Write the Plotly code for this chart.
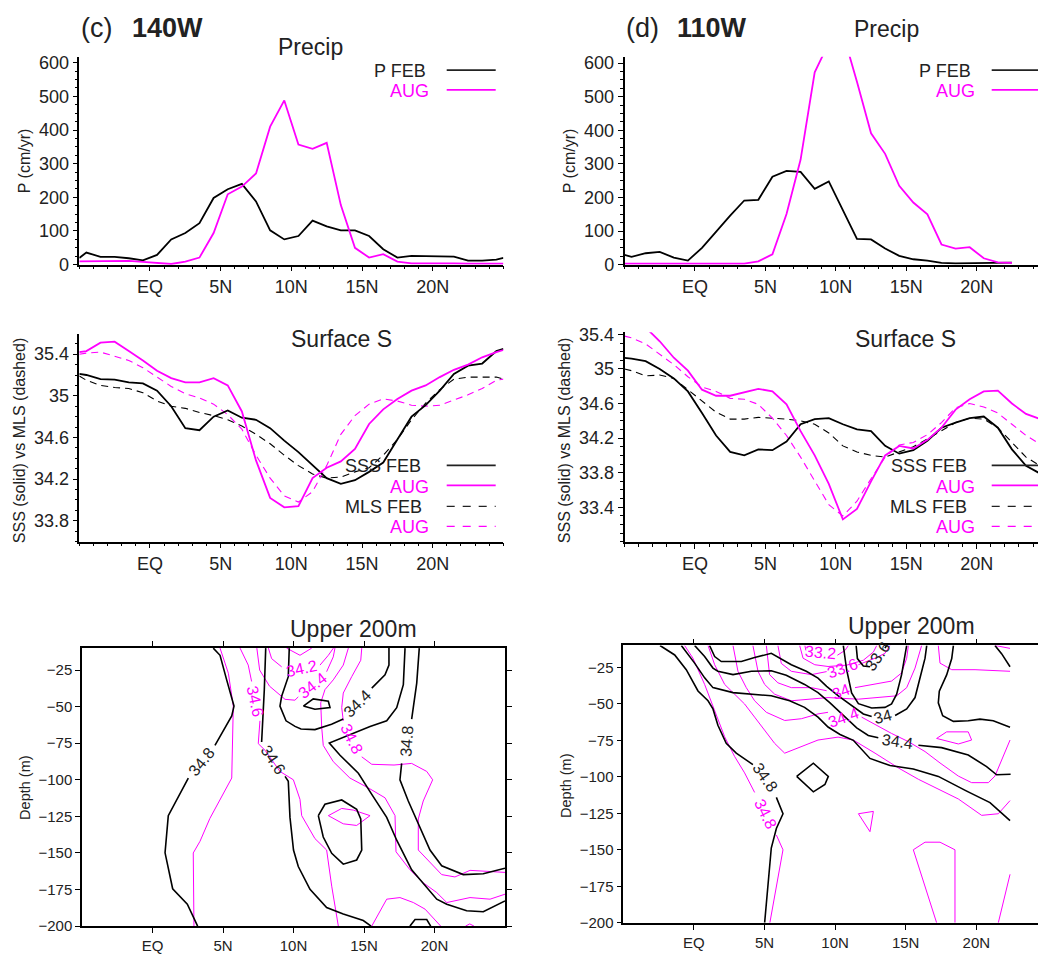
import plotly.graph_objects as go

W, H = 1038, 958
FONT = "Liberation Sans, Arial, Helvetica, sans-serif"
TXT = "#222222"
MAG = "#ff00ff"
BLK = "#000000"

# ---------------- data ----------------
LAT_C = [-5, -4.5, -3.5, -2.5, -1.5, -0.5, 0.5, 1.5, 2.5, 3.5, 4.5, 5.5, 6.5, 7.5, 8.5, 9.5,
         10.5, 11.5, 12.5, 13.5, 14.5, 15.5, 16.5, 17.5, 18.5, 19.5, 20.5, 21.5, 22.5, 23.5, 24.5, 25]
P_FEB_140 = [20, 36, 23, 23, 19, 13, 29, 75, 94, 123, 198, 224, 240, 188, 102, 75, 85, 131, 114, 102,
             102, 85, 46, 21, 26, 26, 26, 24, 12, 12, 15, 20]
P_AUG_140 = [10, 10, 9, 10, 11, 8, 5, 2, 9, 21, 94, 209, 232, 271, 410, 488, 357, 344, 362, 177,
             50, 21, 31, 9, 4, 4, 6, 4, 3, 3, 3, 3]

LAT_P110 = [-5, -4.5, -3.5, -2.5, -1.5, -0.5, 0.5, 1.5, 2.5, 3.5, 4.5, 5.5, 6.5, 7.5, 8.5, 9.5,
            10.5, 11.5, 12.5, 13.5, 14.5, 15.5, 16.5, 17.5, 18.5, 19.5, 20.5, 21.5, 22.5]
P_FEB_110 = [29, 23, 34, 38, 21, 12, 50, 99, 146, 191, 193, 262, 279, 276, 226, 248, 162, 77, 75, 48,
             26, 16, 12, 5, 4, 4, 5, 6, 6]
P_AUG_110 = [3, 3, 3, 3, 3, 3, 2, 1, 1, 3, 10, 31, 151, 313, 573, 660, 690, 545, 391, 330,
             235, 185, 150, 60, 48, 52, 19, 7, 5]

SSS_FEB_140 = [35.21, 35.20, 35.16, 35.155, 35.13, 35.12, 35.05, 34.90, 34.69, 34.67, 34.80, 34.86,
               34.79, 34.77, 34.69, 34.57, 34.46, 34.33, 34.21, 34.155, 34.19, 34.27, 34.36, 34.58,
               34.80, 34.91, 35.05, 35.21, 35.29, 35.31, 35.43, 35.45]
SSS_AUG_140 = [35.42, 35.43, 35.51, 35.52, 35.43, 35.34, 35.24, 35.17, 35.13, 35.13, 35.17, 35.10,
               34.85, 34.38, 34.02, 33.93, 33.94, 34.21, 34.31, 34.37, 34.49, 34.73, 34.87, 34.97,
               35.05, 35.10, 35.18, 35.25, 35.30, 35.37, 35.42, 35.44]
MLS_FEB_140 = [35.19, 35.15, 35.10, 35.08, 35.07, 35.03, 34.95, 34.90, 34.88, 34.84, 34.81, 34.77,
               34.71, 34.63, 34.54, 34.43, 34.33, 34.25, 34.21, 34.22, 34.27, 34.31, 34.43, 34.58,
               34.77, 34.93, 35.06, 35.16, 35.18, 35.18, 35.18, 35.16]
MLS_AUG_140 = [35.40, 35.41, 35.42, 35.38, 35.34, 35.27, 35.18, 35.09, 35.02, 34.98, 34.92, 34.82,
               34.68, 34.43, 34.21, 34.04, 33.98, 34.08, 34.33, 34.63, 34.81, 34.92, 34.97, 34.95,
               34.91, 34.90, 34.91, 34.96, 35.01, 35.07, 35.15, 35.16]

LAT_S110 = [-5, -4.5, -3.5, -2.5, -1.5, -0.5, 0.5, 1.5, 2.5, 3.5, 4.5, 5.5, 6.5, 7.5, 8.5, 9.5,
            10.5, 11.5, 12.5, 13.5, 14.5, 15.5, 16.5, 17.5, 18.5, 19.5, 20.5, 21.5, 22.5, 23.5, 24.5]
SSS_FEB_110 = [35.127, 35.12, 35.09, 35.00, 34.89, 34.74, 34.49, 34.23, 34.04, 34.00, 34.07, 34.06,
               34.16, 34.36, 34.42, 34.43, 34.36, 34.30, 34.28, 34.11, 34.02, 34.06, 34.17, 34.32,
               34.38, 34.43, 34.45, 34.32, 34.07, 33.88, 33.79]
SSS_AUG_110 = [35.65, 35.60, 35.48, 35.32, 35.13, 34.98, 34.76, 34.69, 34.69, 34.73, 34.77, 34.74,
               34.59, 34.28, 34.00, 33.67, 33.26, 33.38, 33.70, 34.00, 34.11, 34.08, 34.18, 34.32,
               34.53, 34.65, 34.74, 34.75, 34.60, 34.48, 34.42]
MLS_FEB_110 = [35.00, 34.98, 34.92, 34.93, 34.89, 34.76, 34.64, 34.50, 34.42, 34.42, 34.44, 34.43,
               34.42, 34.40, 34.36, 34.26, 34.11, 34.04, 34.00, 33.98, 34.04, 34.10, 34.19, 34.29,
               34.38, 34.43, 34.42, 34.32, 34.15, 33.98, 33.88]
MLS_AUG_110 = [35.38, 35.36, 35.29, 35.17, 35.05, 34.91, 34.79, 34.74, 34.66, 34.65, 34.59, 34.43,
               34.23, 33.98, 33.70, 33.43, 33.30, 33.47, 33.73, 33.98, 34.12, 34.15, 34.24, 34.38,
               34.55, 34.60, 34.56, 34.49, 34.36, 34.23, 34.13]

XTICK_VALS = [0, 5, 10, 15, 20]
XTICK_TEXT = ["EQ", "5N", "10N", "15N", "20N"]
XMINOR_VALS = list(range(-5, 26))
P_TICKS = [0, 100, 200, 300, 400, 500, 600]
P_MINOR = list(range(0, 626, 25))
S_TICKS_140 = [33.8, 34.2, 34.6, 35.0, 35.4]
S_TEXT_140 = ["33.8", "34.2", "34.6", "35", "35.4"]
S_TICKS_110 = [33.4, 33.8, 34.2, 34.6, 35.0, 35.4]
S_TEXT_110 = ["33.4", "33.8", "34.2", "34.6", "35", "35.4"]
S_MINOR = [round(33.0 + 0.1 * i, 1) for i in range(27)]
D_TICKS = [-25, -50, -75, -100, -125, -150, -175, -200]

N = (None, None)  # break in a contour line (label position)

# ---- 140W contour lines (lat, depth) ----
C140_FEB = [
    [(4.31, -10), (4.79, -14.9), (5.26, -31.7), (5.78, -49.6), (5.62, -56.3), (4.43, -76.5), N,
     (2.54, -98.8), (1.12, -124.5), (0.89, -149.9), (1.43, -174.5), (2.47, -185), (3.2, -200)],
    [(8.03, -10), (7.93, -38.4), (7.74, -74.2), N, (9.40, -97.7), (9.63, -101), (9.75, -125.7),
     (10.0, -148), (10.34, -159.3), (11.17, -174.9), (12.35, -187.3), (13.53, -191.7), (14.95, -196.2),
     (15.5, -200)],
    [(10.70, -49.6), (11.40, -44.7), (12.47, -46.3), (12.59, -50.7), (11.52, -51.8), (10.70, -49.6)],
    [(9.70, -10), (9.63, -29.5), (9.16, -42.9), (9.04, -49.6), (9.47, -59.7), (10.11, -63.5),
     (10.53, -65.3), (11.52, -65.7), (12.70, -62.1), (13.53, -58.5), N, (15.55, -37.3), (16.49, -28.3),
     (16.77, -21.6), (16.77, -10)],
    [(17.91, -10), (17.79, -35), (17.32, -50.7), (16.61, -59.7), (15.43, -63.5), (13.65, -70.4),
     (12.54, -74.9), (13.30, -83.2), (14.6, -95.5), (15.55, -110), (16.61, -125.7), (17.32, -141.3),
     (18.38, -161.5), (20.16, -181.6), (20.87, -185), (22.28, -189.5), (23.46, -190.2), (25, -182.8)],
    [(18.92, -10), (18.74, -33.9), (18.38, -58.5), N, (17.67, -88.8), (17.55, -100), (18.14, -114.5),
     (18.85, -130.2), (19.68, -148), (20.51, -158.8), (22.04, -164.8), (23.46, -164.2), (25, -160.4)],
    [(11.76, -124.5), (12.23, -116.7), (13.42, -113.8), (14.48, -120.1), (14.77, -126.8), (14.84, -148),
     (14.48, -154.8), (13.53, -157.7), (12.71, -150.3), (12.11, -139.1), (11.76, -124.5)],
    [(18.26, -200), (18.62, -195.5), (19.45, -195.5), (19.73, -200)],
]
C140_AUG = [
    [(4.79, -10), (5.38, -27.2), (5.73, -49.6), (5.62, -98.8), (4.07, -126.4), (3.37, -142),
     (2.89, -150), (2.94, -200)],
    [(6.21, -10), (6.79, -21.6), (7.03, -32.8), N, (7.62, -59.7), (7.5, -75.3), (7.98, -79.8),
     (9.04, -94.3), (9.99, -100), (10.46, -113.4), (10.58, -124.5), (11.52, -140.2), (12.35, -148),
     (12.71, -172.7), (13.18, -200)],
    [(7.4, -10), (7.6, -25), (8.3, -36), (9.4, -45), (10.1, -45.6), (10.34, -43.3), N,
     (12.35, -26.1), (12.82, -16), (12.94, -10)],
    [(8.22, -10), (8.45, -17.2), (9.16, -22.8), N, (11.88, -21.6), (12.47, -14.9), (12.83, -10)],
    [(9.51, -10), (10.46, -14.9), (11.29, -10)],
    [(14.84, -10), (14.77, -18.3), (14.13, -29.5), (13.53, -40.7), (13.42, -50.7), (13.53, -59.7), N,
     (14.84, -84.3), (15.55, -89.4), (17.13, -89.9), (18.38, -88.8), (19.45, -94.3), (19.87, -100),
     (19.2, -114.5), (18.85, -126.8), (18.85, -148), (20.51, -164.8), (21.45, -166.4), (22.52, -161.9),
     (25, -163.3)],
    [(13.89, -10), (13.53, -21.6), (12.82, -31.7), (12.23, -38.4), (11.93, -47.4), (12.0, -64.1),
     (12.11, -76.5), (12.82, -87.6), (14.0, -98.8), (15.3, -105.5), (16.49, -112.3), (17.2, -124.5),
     (17.27, -149.2), (18.26, -161.5), (19.2, -170.4), (20.16, -177.1), (20.87, -183.9), (22.52, -180.5),
     (23.94, -181.6), (25, -178.2)],
    [(12.47, -124.5), (13.42, -119.6), (14.24, -120.7), (15.43, -124.5), (14.48, -131.2), (13.53, -130.1),
     (12.47, -124.5)],
    [(15.55, -200), (16.61, -181.6), (17.55, -180.5), (18.5, -183.9), (19.33, -188.4), (20.27, -197.7),
     (20.44, -200)],
    [(22.2, -200), (22.5, -198.5), (22.8, -200)],
]
# labels: (lat, depth, text, angle)
L140_FEB = [(3.5, -87.6, "34.8", -51), (8.55, -86.0, "34.6", 56), (14.55, -48.0, "34.4", -45),
            (18.05, -74.0, "34.8", -86)]
L140_AUG = [(7.3, -46.3, "34.6", 78), (10.6, -24.0, "34.2", -12), (11.35, -35.5, "34.4", -38),
            (14.1, -72.0, "34.8", 64)]

# ---- 110W contour lines (lat, depth) ----
C110_FEB = [
    [(-2.4, -10), (-1.36, -16.5), (-0.54, -26.6), (0.29, -41.2), (1.0, -47.9), (1.35, -53.5),
     (1.70, -64.7), (2.29, -77.1), (3.0, -83.8), (4.18, -91.6), N, (5.84, -114.1), (6.31, -125.3),
     (5.84, -135.4), (5.48, -148.8), (5.01, -200)],
    [(-0.89, -10), (0.05, -22.1), (0.76, -32.2), (1.35, -38.9), (2.77, -42.3), (4.30, -43.4),
     (5.48, -44.5), (6.78, -47.9), (7.84, -52.4), (8.79, -59.1), (9.50, -65.9), (10.35, -71),
     (11.29, -75), (12.47, -87.4), (13.89, -92.3), (15.54, -94.6), (17.31, -99.7), (19.32, -109.8),
     (20.97, -117.7), (22.39, -130)],
    [(0.05, -10), (0.76, -17.6), (1.35, -25.5), (1.70, -27.7), (2.77, -30), (4.07, -27.7), (5.48, -27.3),
     (6.54, -30.4), (7.84, -36.7), (8.79, -42.3), (9.64, -49.3), (10.58, -58.2), (11.53, -66.5),
     (12.35, -71.7), (13.06, -73.3), N, (15.90, -78.4), (17.54, -80), (19.43, -85.1), (20.73, -93),
     (21.44, -98.6), (22.43, -98.2)],
    [(1.11, -10), (1.47, -17.6), (1.94, -21), (3.36, -21), (4.30, -18.3), (5.48, -15.4), (6.90, -23.2),
     (7.96, -27.7), (8.79, -32.4), (9.40, -38), (10.23, -44.5), (11.17, -51.3), (12.0, -56.9),
     (12.59, -58.7), N, (14.25, -58), (15.07, -53.5), (15.66, -45.7), (16.02, -32.2), (16.37, -18.7),
     (16.49, -10)],
    [(10.58, -10), (10.82, -26.8), (11.17, -42.5), (11.65, -49.9), (12.59, -52.8), (13.53, -52.4),
     (14.0, -50.1), (14.36, -43.4), (14.71, -30), (14.95, -16.5), (15.07, -10)],
    [(11.49, -10), (11.58, -19), (12.0, -24.1), (12.47, -24.6), N, (13.53, -11.8), (13.65, -10)],
    [(18.38, -10), (18.26, -19), (17.9, -30.2), (17.38, -41.4), (17.31, -49.3), (17.62, -58.2),
     (18.38, -62), (19.43, -61.6), (20.26, -60.5), (21.2, -61.6), (22.39, -66.1)],
    [(21.32, -10), (21.79, -15.6), (22.39, -24.6)],
    [(7.28, -99.7), (8.46, -90.7), (9.52, -99.7), (9.28, -105.3), (8.46, -110.3), (7.28, -99.7)],
]
C110_AUG = [
    [(-0.66, -10), (-0.07, -18.7), (0.76, -36.7), (1.47, -54.6), (2.18, -72.6), (2.88, -86),
     (3.59, -97.3), (4.30, -110.7), N, (5.84, -139.9), (6.31, -150), (5.38, -200)],
    [(1.0, -10), (1.47, -23.2), (2.18, -36.7), (2.88, -43.4), (3.59, -50.1), (4.30, -59.1), (5.01, -68.1),
     (5.72, -77.1), (6.43, -83.8), (7.61, -79.3), (8.79, -74.8), (10.21, -72.8), (11.29, -74.8),
     (12.83, -83.8), (14.48, -93.9), (15.9, -101.7), (17.31, -108.5), (18.73, -115.2), (20.38, -126.4),
     (21.56, -125.3), (22.39, -116.3)],
    [(2.77, -10), (3.12, -27.7), (3.71, -38.9), (4.30, -47.9), (5.13, -55.8), (6.43, -61.4), (7.61, -60.2),
     (8.79, -56.9), (9.50, -55.8), N, (11.88, -59.1), (12.83, -64.1), (14.0, -70.3), (15.19, -75.9),
     (16.37, -82.7), (17.43, -90.5), (18.73, -99.5), (19.67, -104), (20.85, -104), (21.32, -99.5),
     (22.39, -74.8)],
    [(4.18, -10), (4.54, -27.7), (5.01, -36.7), (5.72, -43.4), (6.90, -47.9), (8.32, -46.8), (9.50, -45.7),
     (11.65, -46.8), (14.36, -44.5), (15.07, -38.9), (15.66, -25.5), (16.13, -10)],
    [(5.13, -10), (5.36, -30), (5.95, -35.6), (6.90, -38.9), (8.32, -38.9), (9.40, -41), N,
     (11.41, -38.9), (12.83, -36.2), (14.0, -34.4), (14.71, -28.8), (15.07, -18.7), (15.19, -10)],
    [(5.95, -10), (6.19, -22.3), (6.90, -27.7), (8.32, -30), (9.40, -27.9), N, (11.65, -23.2),
     (12.83, -18.7), (13.53, -15.4), (13.89, -10)],
    [(7.49, -10), (7.73, -18.7), (8.56, -23.2), (9.5, -24.4), (10.82, -23.5), (12.0, -20.1),
     (12.71, -14.5), (12.95, -10)],
    [(7.86, -10), (7.93, -13.4), N, (10.16, -16.7), (10.7, -13.4), (10.94, -10)],
    [(17.31, -10), (17.43, -22.1), (18.26, -26.6), (19.91, -26.6), (22.39, -27.7)],
    [(21.32, -10), (22.39, -12)],
    [(17.19, -73.7), (17.9, -69.2), (19.43, -69.2), (19.67, -74.8), (18.73, -77.5), (17.19, -73.7)],
    [(11.65, -125.3), (12.71, -123.7), (12.47, -137.6), (11.65, -125.3)],
    [(17.19, -200), (16.37, -175.8), (15.54, -150), (16.37, -144.8), (17.43, -144.8), (18.49, -150),
     (18.49, -200)],
    [(22.39, -166.8), (21.56, -200)],
]
L110_FEB = [(5.03, -100.8, "34.8", 55), (14.4, -75.5, "34.4", 8), (13.42, -59.0, "34", -15),
            (13.0, -17.5, "33.6", -55)]
L110_AUG = [(8.98, -15.0, "33.2", 5), (10.5, -25.8, "33.6", -20), (10.45, -41.5, "34", -20),
            (10.6, -59.5, "34.4", -20), (5.05, -125.3, "34.8", 64)]

# ---------------- figure ----------------
fig = go.Figure()


def line(x, y, color, xa, ya, width=1.8, dash=None):
    fig.add_trace(go.Scatter(x=x, y=y, mode="lines", xaxis=xa, yaxis=ya,
                             line=dict(color=color, width=width, dash=dash),
                             showlegend=False, hoverinfo="skip"))


DASH = "7px,5px"
# precip
line(LAT_C, P_FEB_140, BLK, "x", "y")
line(LAT_C, P_AUG_140, MAG, "x", "y")
line(LAT_P110, P_FEB_110, BLK, "x2", "y2")
line(LAT_P110, P_AUG_110, MAG, "x2", "y2")
# surface salinity
line(LAT_C, MLS_FEB_140, BLK, "x3", "y3", 1.1, DASH)
line(LAT_C, MLS_AUG_140, MAG, "x3", "y3", 1.1, DASH)
line(LAT_C, SSS_FEB_140, BLK, "x3", "y3")
line(LAT_C, SSS_AUG_140, MAG, "x3", "y3")
line(LAT_S110, MLS_FEB_110, BLK, "x4", "y4", 1.1, DASH)
line(LAT_S110, MLS_AUG_110, MAG, "x4", "y4", 1.1, DASH)
line(LAT_S110, SSS_FEB_110, BLK, "x4", "y4")
line(LAT_S110, SSS_AUG_110, MAG, "x4", "y4")


def contours(sets, color, width, xa, ya):
    for pts in sets:
        line([p[0] for p in pts], [p[1] for p in pts], color, xa, ya, width)


contours(C140_AUG, MAG, 1.0, "x5", "y5")
contours(C140_FEB, BLK, 1.6, "x5", "y5")
contours(C110_AUG, MAG, 1.0, "x6", "y6")
contours(C110_FEB, BLK, 1.6, "x6", "y6")


def xax(d0, d1, rng, anchor, fs, minor=True, mirror=False):
    a = dict(domain=[d0 / W, d1 / W], range=rng, anchor=anchor, showline=True, linecolor="black",
             linewidth=1.5, ticks="outside", ticklen=5, tickwidth=1.2, tickcolor="black",
             tickmode="array", tickvals=XTICK_VALS, ticktext=XTICK_TEXT,
             tickfont=dict(family=FONT, size=fs, color=TXT), showgrid=False, zeroline=False,
             fixedrange=True, mirror="ticks" if mirror else False)
    if minor:
        a["minor"] = dict(tickvals=XMINOR_VALS, ticklen=3, tickwidth=1, tickcolor="black", showgrid=False)
    return a


def yax(p_bottom, p_top, rng, anchor, vals, text, fs, minor=None, mirror=False):
    a = dict(domain=[1 - p_bottom / H, 1 - p_top / H], range=rng, anchor=anchor, showline=True,
             linecolor="black", linewidth=1.5, ticks="outside", ticklen=5, tickwidth=1.2,
             tickcolor="black", tickmode="array", tickvals=vals,
             tickfont=dict(family=FONT, size=fs, color=TXT), showgrid=False, zeroline=False,
             fixedrange=True, mirror="ticks" if mirror else False)
    if text is not None:
        a["ticktext"] = text
    if minor is not None:
        a["minor"] = dict(tickvals=minor, ticklen=3, tickwidth=1, tickcolor="black", showgrid=False)
    return a


TF = 18
layout = dict(
    width=W, height=H, margin=dict(l=0, r=0, t=0, b=0),
    paper_bgcolor="white", plot_bgcolor="white", showlegend=False,
    font=dict(family=FONT, color=TXT),
    xaxis=xax(79.3, 503.4, [-5, 25], "y", TF),
    yaxis=yax(262.3, 50.7, [0, 617.6], "x", P_TICKS, None, TF, P_MINOR),
    xaxis2=xax(624.5, W, [-5, 24.35], "y2", TF),
    yaxis2=yax(262.3, 50.7, [0, 619], "x2", P_TICKS, None, TF, P_MINOR),
    xaxis3=xax(79.3, 503.4, [-5, 25], "y3", TF),
    yaxis3=yax(544.3, 333.3, [33.6, 35.59], "x3", S_TICKS_140, S_TEXT_140, TF, S_MINOR),
    xaxis4=xax(624.5, W, [-5, 24.35], "y4", TF),
    yaxis4=yax(544.5, 331.0, [33.0, 35.426], "x4", S_TICKS_110, S_TEXT_110, TF, S_MINOR),
    xaxis5=xax(82, 505, [-5, 25], "y5", 15, minor=False, mirror=True),
    yaxis5=yax(935.7, 652.7, [-200, -10], "x5", D_TICKS, None, 15, None, mirror=True),
    xaxis6=xax(623.3, W, [-5, 24.37], "y6", 15, minor=False, mirror=True),
    yaxis6=yax(932.3, 650.0, [-200, -10], "x6", D_TICKS, None, 15, None, mirror=False),
)
fig.update_layout(**layout)

ann = []


def text(px, py, s, size, color=TXT, xanchor="center", angle=0):
    ann.append(dict(x=px / W, y=1 - py / H, xref="paper", yref="paper", text=s, showarrow=False,
                    xanchor=xanchor, yanchor="middle", textangle=angle,
                    font=dict(family=FONT, size=size, color=color)))


# headers
text(79, 21, "(c)", 27, xanchor="left")
text(130, 21, "<b>140W</b>", 27, xanchor="left")
text(624, 21, "(d)", 27, xanchor="left")
text(675, 21, "<b>110W</b>", 27, xanchor="left")
# panel titles
text(310, 41, "Precip", 23)
text(886.7, 22, "Precip", 23)
text(341.7, 338, "Surface S", 23)
text(905, 338, "Surface S", 23)
text(353, 633, "Upper 200m", 23)
text(911.7, 630, "Upper 200m", 23)
# axis titles
text(24, 157, "P (cm/yr)", 16, angle=-90)
text(569, 157, "P (cm/yr)", 16, angle=-90)
text(19.5, 441.5, "SSS (solid) vs MLS (dashed)", 16, angle=-90)
text(564.5, 441.5, "SSS (solid) vs MLS (dashed)", 16, angle=-90)
text(25, 795, "Depth (m)", 14.5, angle=-90)
text(566, 793, "Depth (m)", 14.5, angle=-90)

shapes = []


def leg(tx, ty, s, color, lx0, lx1, ly, dash=None, width=1.8):
    text(tx, ty, s, 18, color=color, xanchor="right")
    shapes.append(dict(type="line", xref="paper", yref="paper", x0=lx0 / W, x1=lx1 / W,
                       y0=1 - ly / H, y1=1 - ly / H, line=dict(color=color, width=width, dash=dash)))


leg(428, 65, "P FEB", TXT, 446.7, 495.7, 64.3)
leg(431, 85.5, "AUG", MAG, 446.7, 495.7, 84.3)
leg(973, 65, "P FEB", TXT, 991.7, 1040, 64.3)
leg(977, 85.5, "AUG", MAG, 991.7, 1040, 84.3)
leg(423, 467.5, "SSS FEB", TXT, 446.7, 495.7, 466.7)
leg(431, 488.3, "AUG", MAG, 446.7, 495.7, 487)
leg(424, 509.2, "MLS FEB", TXT, 446.7, 495.7, 508.3, "8px,8px", 1.3)
leg(431, 529.2, "AUG", MAG, 446.7, 495.7, 528.7, "8px,8px", 1.3)
leg(968.5, 467.5, "SSS FEB", TXT, 991.7, 1040, 466.7)
leg(977, 488.3, "AUG", MAG, 991.7, 1040, 487)
leg(969, 509.2, "MLS FEB", TXT, 991.7, 1040, 508.3, "8px,8px", 1.3)
leg(977, 529.2, "AUG", MAG, 991.7, 1040, 528.7, "8px,8px", 1.3)


def clabels(labels, color, xa, ya):
    for la, de, s, ang in labels:
        ann.append(dict(x=la, y=de, xref=xa, yref=ya, text=s, showarrow=False, textangle=ang,
                        xanchor="center", yanchor="middle",
                        font=dict(family=FONT, size=16, color=color)))


clabels(L140_FEB, TXT, "x5", "y5")
clabels(L140_AUG, MAG, "x5", "y5")
clabels(L110_FEB, TXT, "x6", "y6")
clabels(L110_AUG, MAG, "x6", "y6")

fig.update_layout(annotations=ann, shapes=shapes)
fig.write_html("out.html")
